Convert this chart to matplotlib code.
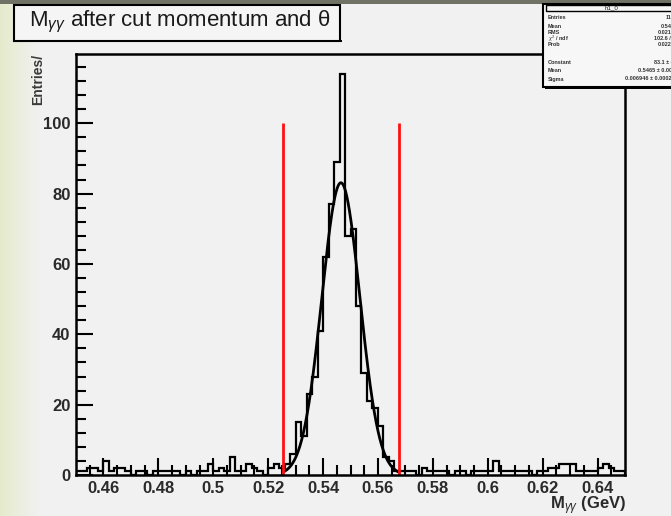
import matplotlib
matplotlib.use('Agg')
import matplotlib.pyplot as plt
import numpy as np
from matplotlib.patches import Rectangle

# M_gg histogram, 100 bins between 0.45 and 0.65 GeV
counts = [1, 1, 2, 2, 1, 4, 1, 2, 2, 1,
          0, 1, 1, 0, 1, 1, 1, 1, 1, 0,
          1, 0, 1, 1, 3, 1, 2, 1, 5, 1,
          1, 3, 2, 1, 0, 2, 3, 2, 3, 6,
          15, 11, 23, 28, 41, 62, 77, 89, 114, 68,
          70, 48, 29, 21, 19, 14, 5, 4, 1, 1,
          1, 1, 0, 2, 1, 1, 1, 1, 0, 1,
          1, 0, 1, 1, 1, 1, 4, 1, 1, 1,
          1, 1, 1, 0, 1, 1, 2, 2, 3, 3,
          3, 1, 1, 1, 1, 2, 3, 2, 1, 1]
x_lo, x_hi = 0.45, 0.65

# gaussian fit result
fit_constant = 83.1
fit_mean = 0.5465
fit_sigma = 0.006946

# mass window cuts
cut_lo, cut_hi = 0.5255, 0.5675
cut_height = 100

x_ticks = [0.46, 0.48, 0.50, 0.52, 0.54, 0.56, 0.58, 0.60, 0.62, 0.64]
x_tick_labels = ['0.46', '0.48', '0.5', '0.52', '0.54', '0.56', '0.58', '0.6', '0.62', '0.64']
y_ticks = [0, 20, 40, 60, 80, 100]

stats_title = 'h1_0'
stats_names = ['Entries', 'Mean', 'RMS', r'$\chi^2$ / ndf', 'Prob',
               'Constant', 'Mean', 'Sigma']
stats_values = ['1166', '0.5487', '0.02163', '102.6 / 86', '0.02268',
                '83.1 ± 4.1', '0.5465 ± 0.0003', '0.006946 ± 0.000202']

W, H = 671, 516
plt.rcParams['font.family'] = ['Liberation Sans', 'DejaVu Sans']
plt.rcParams['mathtext.fontset'] = 'custom'
plt.rcParams['mathtext.rm'] = 'Liberation Sans'
plt.rcParams['mathtext.it'] = 'Liberation Sans:italic'
plt.rcParams['mathtext.bf'] = 'Liberation Sans:bold'

bg = '#f1f1f1'
fig = plt.figure(figsize=(W / 100, H / 100), dpi=100, facecolor=bg)


def fx(px):
    return px / W


def fy(py):
    return 1 - py / H


# greenish slide edge on the left and dark strip on top
grad = np.linspace(0, 1, 64)[None, :]
edge_ax = fig.add_axes([0, 0, fx(40), 1])
edge_ax.imshow(np.dstack([np.interp(grad, [0, 1], [0.90, 0.945]),
                          np.interp(grad, [0, 1], [0.92, 0.945]),
                          np.interp(grad, [0, 1], [0.80, 0.945])]),
               aspect='auto', extent=[0, 1, 0, 1])
edge_ax.axis('off')
fig.add_artist(Rectangle((0, fy(4)), 1, 4 / H, transform=fig.transFigure,
                         color='#6f7264', lw=0, zorder=1))

ax = fig.add_axes([fx(76), fy(475), fx(625) - fx(76), fy(54) - fy(475)])
ax.set_facecolor(bg)

edges = np.linspace(x_lo, x_hi, len(counts) + 1)
ax.stairs(counts, edges, color='black', lw=1.6)

xs = np.linspace(cut_lo, cut_hi, 400)
ax.plot(xs, fit_constant * np.exp(-0.5 * ((xs - fit_mean) / fit_sigma) ** 2),
        color='black', lw=2)

ax.vlines([cut_lo, cut_hi], 0, cut_height, color='#ff1010', lw=2)

ax.set_xlim(x_lo, x_hi)
ax.set_ylim(0, 1.05 * max(counts))
ax.set_xticks(x_ticks)
ax.set_xticklabels(x_tick_labels)
ax.set_yticks(y_ticks)
ax.set_xticks(np.arange(0.455, 0.65, 0.005), minor=True)
ax.set_yticks(np.arange(0, 120, 4), minor=True)
ax.tick_params(which='both', direction='in', width=1.5, color='black',
               labelsize=12, labelcolor='#2a2a2a', pad=4)
ax.tick_params(which='major', length=12)
ax.tick_params(which='minor', length=7)
for lab in ax.get_xticklabels() + ax.get_yticklabels():
    lab.set_fontweight('bold')
for sp in ax.spines.values():
    sp.set_linewidth(1.8)

fig.text(fx(38), fy(54), 'Entries/', rotation=90, ha='center', va='top',
         fontsize=10, fontweight='bold', color='#3a3a3a')
fig.text(fx(626), fy(505.5), r'$\mathbf{M}_{\gamma\gamma}$ (GeV)', ha='right', va='center',
         fontsize=12, fontweight='bold', color='#2a2a2a')

# title box
fig.add_artist(Rectangle((fx(14), fy(41)), (340 - 14) / W, 36 / H,
                         transform=fig.transFigure, facecolor='#f5f5f5',
                         edgecolor='black', lw=1.5, zorder=5))
fig.add_artist(Rectangle((fx(16), fy(42)), (340 - 14) / W, 2 / H,
                         transform=fig.transFigure, color='black', lw=0, zorder=5))
fig.add_artist(Rectangle((fx(339), fy(42)), 2 / W, 34 / H,
                         transform=fig.transFigure, color='black', lw=0, zorder=5))
fig.text(fx(29), fy(22), r'M$_{\gamma\gamma}$ after cut momentum and θ',
         ha='left', va='center', fontsize=16, color='#1a1a1a', zorder=6)

# stats box
fig.add_artist(Rectangle((fx(543), fy(87)), (W + 10 - 543) / W, 83 / H,
                         transform=fig.transFigure, facecolor='#f7f7f7',
                         edgecolor='black', lw=1.5, zorder=5))
fig.add_artist(Rectangle((fx(545), fy(89)), (W + 10 - 543) / W, 2.5 / H,
                         transform=fig.transFigure, color='black', lw=0, zorder=5))
fig.add_artist(Rectangle((fx(546), fy(11)), (W + 10 - 546) / W, 6 / H,
                         transform=fig.transFigure, facecolor='#f7f7f7',
                         edgecolor='black', lw=1, zorder=6))
fig.text(fx(612), fy(8), stats_title, ha='center', va='center',
         fontsize=4.5, color='#222222', zorder=7)
rows_y = [17, 27, 32.5, 38.5, 44, 62, 71, 79]
for name, val, ry in zip(stats_names, stats_values, rows_y):
    fig.text(fx(548), fy(ry), name, ha='left', va='center', fontsize=4,
             fontweight='bold', color='#333333', zorder=7)
    fig.text(fx(678), fy(ry), val, ha='right', va='center', fontsize=4,
             fontweight='bold', color='#333333', zorder=7)

fig.savefig('out.png', dpi=100, facecolor=bg)
